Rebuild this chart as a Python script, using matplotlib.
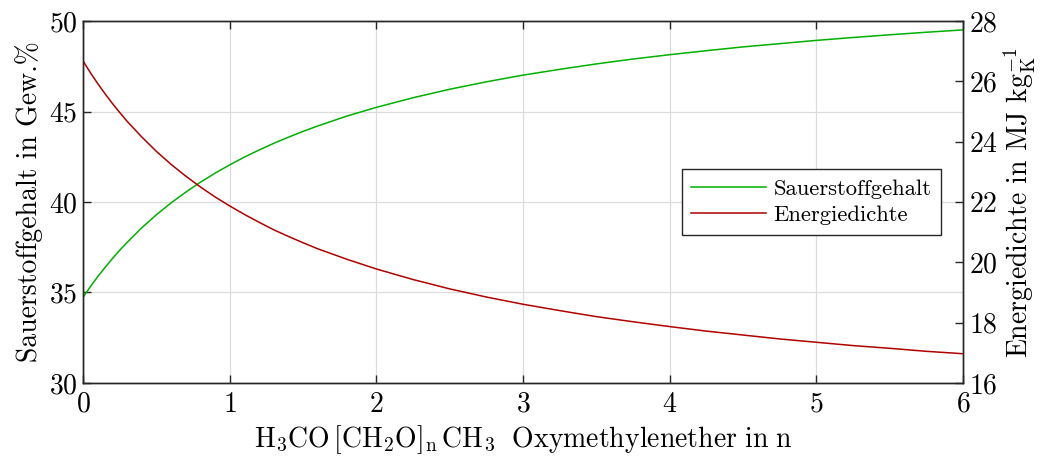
import matplotlib
matplotlib.use('Agg')
import matplotlib.pyplot as plt
import numpy as np

plt.rcParams['font.family'] = 'serif'
plt.rcParams['font.serif'] = ['cmr10']
plt.rcParams['mathtext.fontset'] = 'cm'
plt.rcParams['axes.formatter.use_mathtext'] = True

# values
n = [0, 0.05, 0.1, 0.15, 0.2, 0.25, 0.3, 0.4, 0.5, 0.6, 0.7, 0.8, 0.9, 1,
     1.1, 1.2, 1.3, 1.4, 1.5, 1.6, 1.8, 2, 2.25, 2.5, 2.75, 3, 3.25, 3.5,
     3.75, 4, 4.25, 4.5, 4.75, 5, 5.25, 5.5, 5.75, 6]
sauerstoff = [34.73, 35.32, 35.87, 36.38, 36.87, 37.33, 37.76, 38.57, 39.29,
              39.95, 40.54, 41.09, 41.59, 42.05, 42.48, 42.87, 43.24, 43.58,
              43.90, 44.20, 44.75, 45.23, 45.76, 46.23, 46.64, 47.01, 47.33,
              47.63, 47.90, 48.14, 48.36, 48.57, 48.75, 48.93, 49.09, 49.24,
              49.38, 49.51]
energie = [26.68, 26.29, 25.93, 25.59, 25.27, 24.97, 24.68, 24.16, 23.68,
           23.25, 22.86, 22.50, 22.17, 21.87, 21.59, 21.33, 21.08, 20.86,
           20.65, 20.45, 20.10, 19.78, 19.43, 19.12, 18.85, 18.61, 18.40,
           18.20, 18.03, 17.87, 17.72, 17.59, 17.46, 17.35, 17.24, 17.15,
           17.05, 16.97]

green = '#00b000'
red = '#b00000'
fs = 20

fig = plt.figure(figsize=(10.4, 4.59), dpi=100)
ax = fig.add_axes([0.0798, 0.1656, 0.8462, 0.7886])
ax2 = ax.twinx()

l1, = ax.plot(n, sauerstoff, c=green, lw=1.1, label='Sauerstoffgehalt')
l2, = ax2.plot(n, energie, c=red, lw=1.1, label='Energiedichte')

ax.set_xlim(0, 6)
ax.set_ylim(30, 50)
ax2.set_ylim(16, 28)
ax.set_xticks(range(7))
ax.set_yticks([30, 35, 40, 45, 50])
ax2.set_yticks([16, 18, 20, 22, 24, 26, 28])

ax.grid(True, color='#dcdcdc', lw=0.9)
ax.set_axisbelow(True)

for a in [ax, ax2]:
    for s in a.spines.values():
        s.set_color('#262626')
        s.set_linewidth(1.0)
ax.tick_params(direction='in', length=6, width=1.0, color='#262626',
               labelsize=fs, top=True, pad=6)
ax.tick_params(axis='y', pad=4)
ax2.tick_params(direction='in', length=6, width=1.0, color='#262626',
                labelsize=fs, pad=4)

ax.set_xlabel(r'$\mathrm{H_3CO\,[CH_2O]_n\,CH_3\ \ Oxymethylenether\ in\ n}$',
              fontsize=fs, labelpad=4)
ax.set_ylabel('Sauerstoffgehalt in Gew.%', fontsize=fs, labelpad=4)
ax2.set_ylabel(r'Energiedichte in MJ $\mathrm{kg_K^{-1}}$', fontsize=fs, labelpad=3)

leg = ax.legend(handles=[l1, l2], loc='center right',
                bbox_to_anchor=(0.983, 0.5), fontsize=16.3, fancybox=False,
                framealpha=1, edgecolor='#262626', handlelength=3.3,
                borderpad=0.42, labelspacing=0.3, handletextpad=0.35,
                borderaxespad=0.3)
leg.get_frame().set_linewidth(1.0)

fig.savefig('out.png', dpi=100)
